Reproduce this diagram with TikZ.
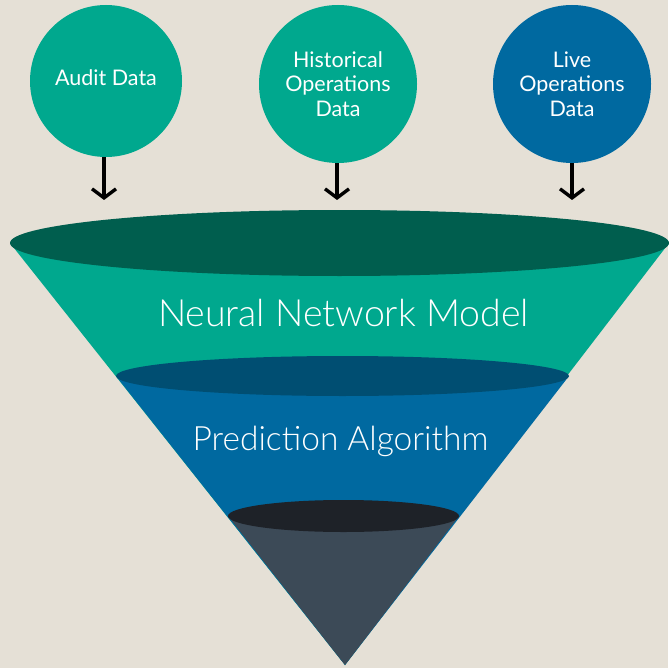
\documentclass[tikz,border=0pt]{standalone}
\usepackage{fontspec}
\setmainfont{Lato}
\newfontfamily\lightfont{Lato Light}
\usetikzlibrary{arrows.meta}

\definecolor{paper}{RGB}{229,224,214}
\definecolor{tealc}{RGB}{0,168,142}
\definecolor{tealtop}{RGB}{0,94,78}
\definecolor{bluec}{RGB}{0,105,160}
\definecolor{bluetop}{RGB}{0,78,114}
\definecolor{slatec}{RGB}{60,74,87}
\definecolor{slatetop}{RGB}{30,34,40}

\tikzset{
  bubble/.style={circle,inner sep=0pt,text=white,align=center,
    font=\fontsize{21.5}{24.5}\selectfont},
  feed/.style={line width=3.4pt,-{Straight Barb[length=9pt,width=24pt]}},
  band/.style={text=white,font=\lightfont\fontsize{37.5}{40}\selectfont}
}

\begin{document}
\begin{tikzpicture}[x=1pt,y=-1pt]
    \fill[paper] (0,0) rectangle (668,668);
    \useasboundingbox (0,0) rectangle (668,668);

    % the three data sources
    \node[bubble,fill=tealc,minimum size=152pt] (audit) at (106,81) {Audit Data\strut};
    \node[bubble,fill=tealc,minimum size=158pt] (hist) at (338,84) {Historical\\Operations\\Data};
    \node[bubble,fill=bluec,minimum size=158pt] (live) at (572,84) {Live\\Operations\\Data};

    \coordinate (auditin) at (104,200);
    \coordinate (histin) at (337,200);
    \coordinate (livein) at (572,200);

    \draw[feed] (audit.south -| auditin) -- (auditin);
    \draw[feed] (hist.south -| histin) -- (histin);
    \draw[feed] (live.south -| livein) -- (livein);

    % funnel, top layer first
    \fill[tealc] (10,243) -- (345,665) -- (669,243) -- cycle;
    \fill[tealtop] (339.5,243) ellipse [x radius=329.5, y radius=33];
    \fill[bluec] (116,376) -- (345,665) -- (569,376) -- cycle;
    \fill[bluetop] (342.5,376) ellipse [x radius=226.5, y radius=20];
    \fill[slatec] (228,516) -- (345,665) -- (459,516) -- cycle;
    \fill[slatetop] (343.5,516) ellipse [x radius=115.5, y radius=16];

    \node[band] (model) at (343.5,313) {Neural Network Model};
    \node[band,font=\lightfont\fontsize{33.5}{36}\selectfont] (algo) at (340.5,441) {Prediction Algorithm};
  \end{tikzpicture}
\end{document}
